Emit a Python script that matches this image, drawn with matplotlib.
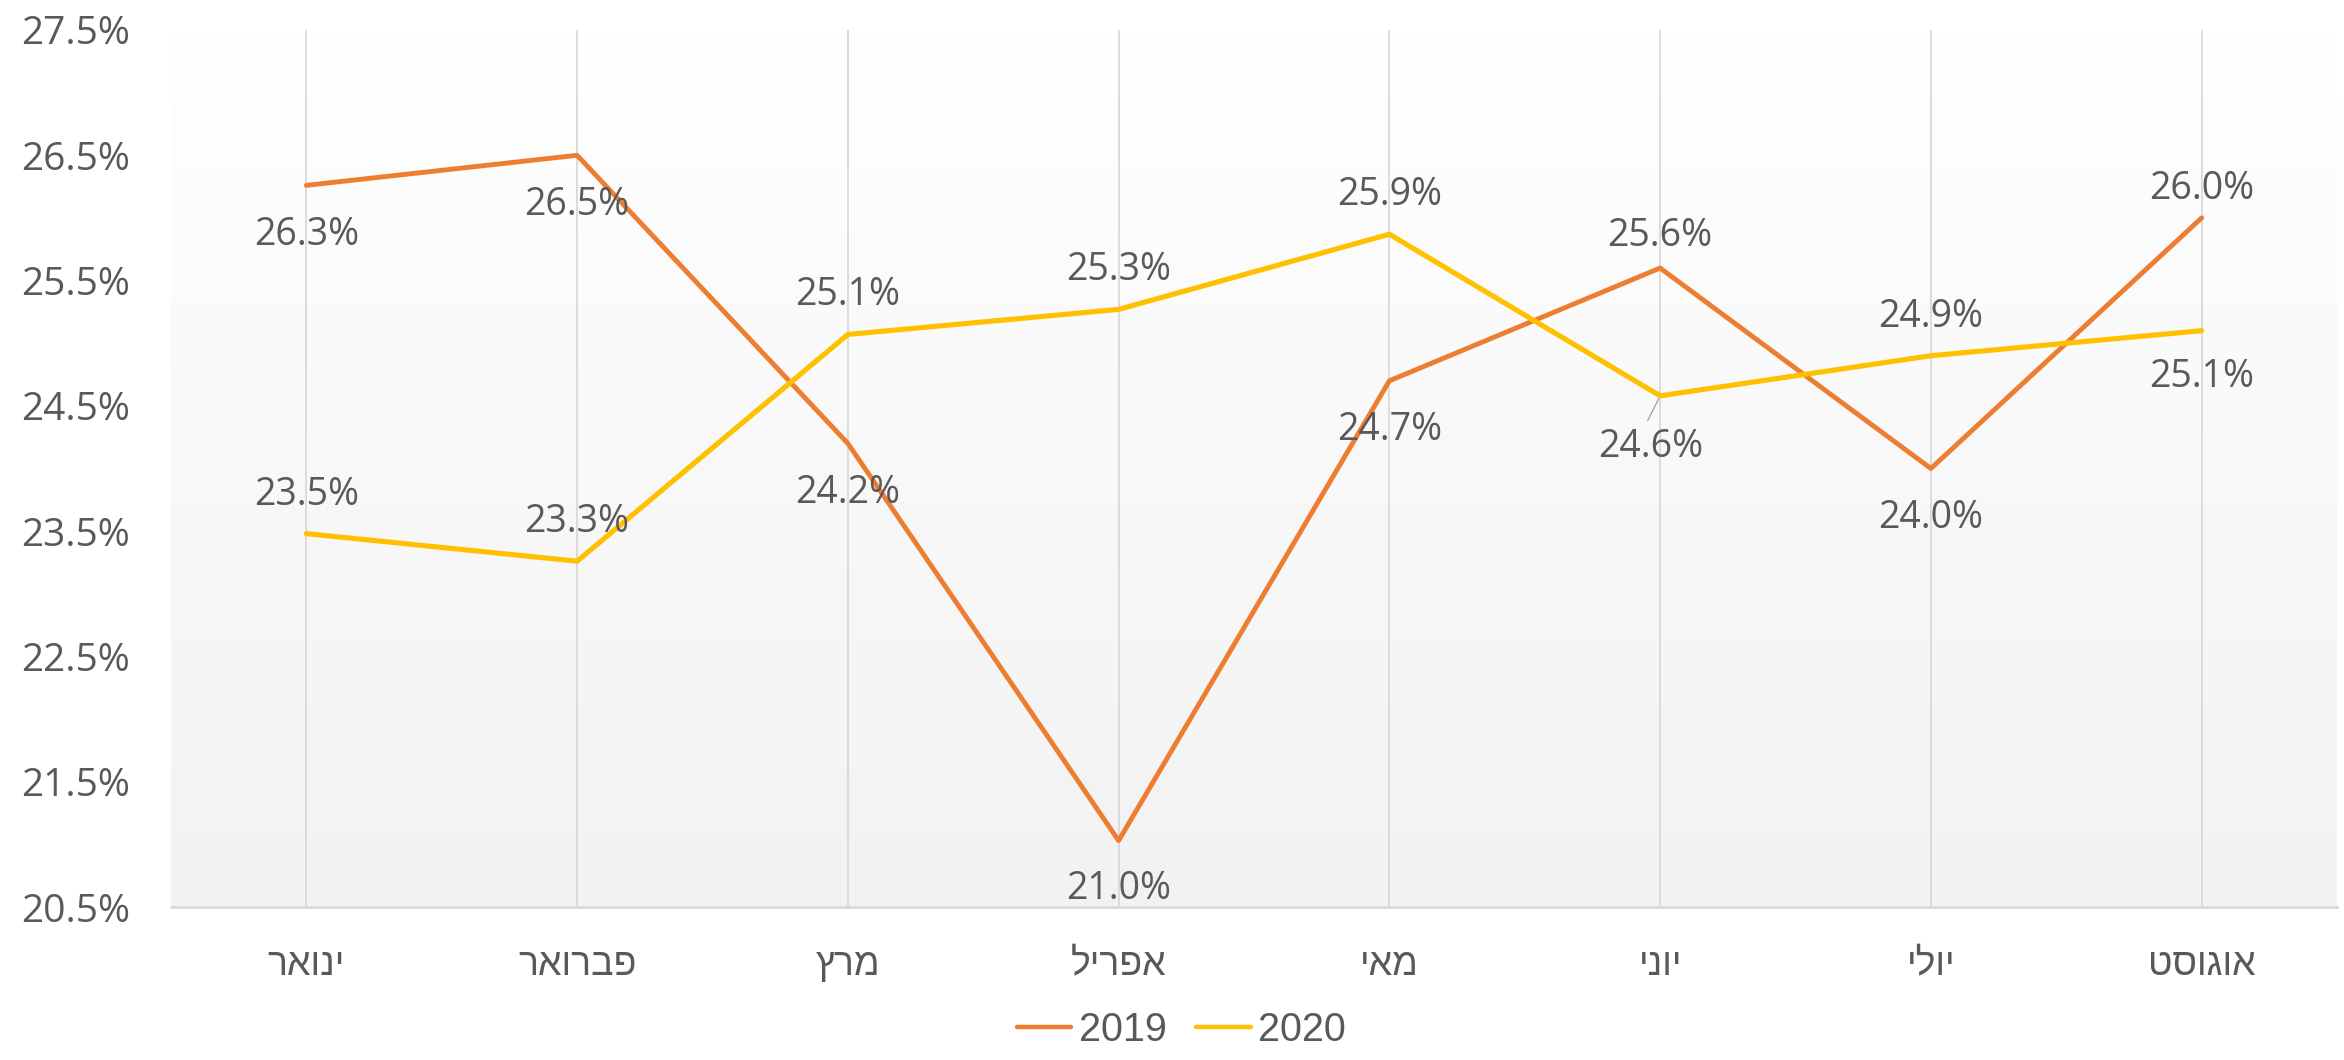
import matplotlib
matplotlib.use("Agg")
import matplotlib.pyplot as plt
import numpy as np
from matplotlib.lines import Line2D

plt.rcParams['font.family'] = ['Open Sans', 'Liberation Sans', 'DejaVu Sans']

months = ["ינואר", "פברואר", "מרץ", "אפריל", "מאי", "יוני", "יולי", "אוגוסט"]
values_2019 = [26.26, 26.5, 24.2, 21.03, 24.7, 25.6, 24.0, 26.0]
values_2020 = [23.48, 23.26, 25.07, 25.27, 25.87, 24.58, 24.9, 25.1]
yticks = [20.5, 21.5, 22.5, 23.5, 24.5, 25.5, 26.5, 27.5]

# label offsets (points, digit centre relative to the data point)
off_2019 = [-33, -33, -33, -32.5, -33, 25.5, -33, 23]
off_2020 = [30.5, 30.5, 30.5, 30.5, 30.5, -34.5, 30.5, -31]

C19 = "#ED7D31"
C20 = "#FFC000"
TXT = "#595959"
FS = 27
HALF_DIGIT = FS * 0.714 / 2

def rtl(s):
    return s[::-1]

fig = plt.figure(figsize=(23.44, 10.60), dpi=100)
ax = fig.add_axes([171/2344, 1-907/1060, (2337-171)/2344, (907-30)/1060])

x = np.arange(len(months))
ax.set_xlim(-0.5, len(months)-0.5)
ax.set_ylim(20.5, 27.5)

# gradient background
grad = np.linspace(1.0, 0.0, 256).reshape(-1, 1)
top = np.array([1.0, 1.0, 1.0])
bot = np.array([0xf2, 0xf2, 0xf2]) / 255.0
img = grad[..., None] * top + (1 - grad[..., None]) * bot
ax.imshow(img, extent=[0, 1, 0, 1], transform=ax.transAxes, aspect='auto', zorder=0)

for xi in x:
    ax.axvline(xi, color="#d9d9d9", lw=1.3, zorder=1)

ax.plot(x, values_2019, color=C19, lw=3.5, zorder=3, solid_capstyle='round', label="2019")
ax.plot(x, values_2020, color=C20, lw=3.7, zorder=3, solid_capstyle='round', label="2020")

for xi, v, o in zip(x, values_2019, off_2019):
    ax.annotate(f"{v:.1f}%", (xi, v), xytext=(0, o - HALF_DIGIT), textcoords='offset points',
                ha='center', va='baseline', fontsize=FS, color=TXT, zorder=4)
for xi, v, o in zip(x, values_2020, off_2020):
    if xi == 5:
        ax.annotate(f"{v:.1f}%", (xi, v), xytext=(-7, o - HALF_DIGIT), textcoords='offset points',
                    ha='center', va='baseline', fontsize=FS, color=TXT, zorder=4)
        ax.annotate("", (xi, v), xytext=(-9, -18), textcoords='offset points',
                    arrowprops=dict(arrowstyle='-', color='#a6a6a6', lw=1.0,
                                    shrinkA=0, shrinkB=2), zorder=4)
    else:
        ax.annotate(f"{v:.1f}%", (xi, v), xytext=(0, o - HALF_DIGIT), textcoords='offset points',
                    ha='center', va='baseline', fontsize=FS, color=TXT, zorder=4)

ax.set_yticks(yticks)
ax.set_yticklabels([f"{t:.1f}%" for t in yticks])
ax.set_xticks(x)
ax.set_xticklabels([rtl(m) for m in months], family=['Liberation Sans', 'DejaVu Sans'],
                   fontsize=27)
ax.tick_params(axis='both', length=0, colors=TXT)
ax.tick_params(axis='y', labelsize=28, pad=29.5)
ax.tick_params(axis='x', pad=28.5)

for s in ['top', 'right', 'left']:
    ax.spines[s].set_visible(False)
ax.spines['bottom'].set_color('#d9d9d9')
ax.spines['bottom'].set_linewidth(2)
ax.spines['bottom'].set_zorder(2)

handles = [Line2D([], [], color=C19, lw=3.2, solid_capstyle='round'),
           Line2D([], [], color=C20, lw=3.2, solid_capstyle='round')]
leg = fig.legend(handles, ["2019", "2020"], loc='center', bbox_to_anchor=(0.504, 1-1030/1060),
                 ncol=2, frameon=False, handlelength=1.37, handletextpad=0.18,
                 columnspacing=0.76, prop={'family': ['Liberation Sans', 'DejaVu Sans'], 'size': 28.5})
for t in leg.get_texts():
    t.set_color(TXT)

fig.savefig("out.png", dpi=100)
